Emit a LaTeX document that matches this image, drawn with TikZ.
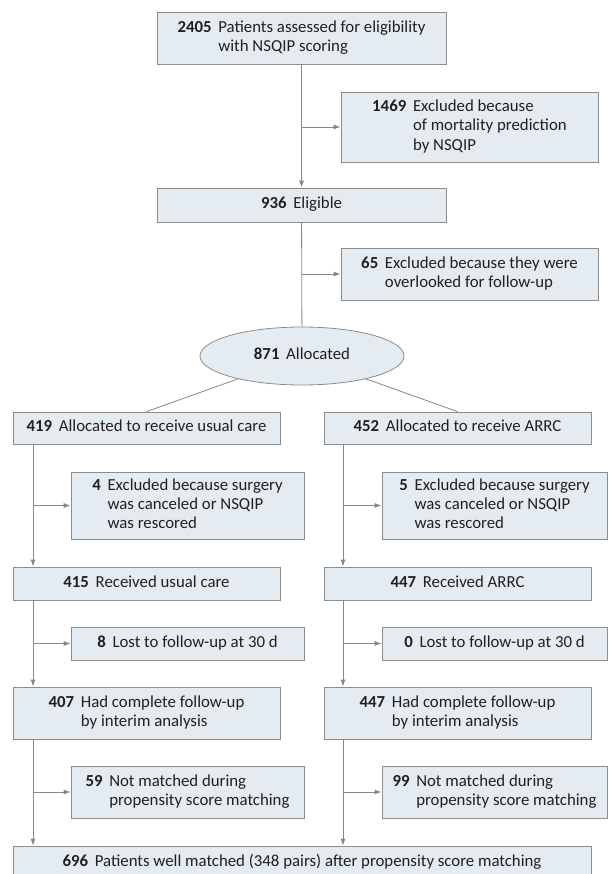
\documentclass[tikz,border=0pt]{standalone}
\usepackage{fontspec}
\setmainfont{Carlito}
\usetikzlibrary{arrows.meta,shapes.geometric}
\definecolor{boxfill}{RGB}{228,236,241}
\definecolor{boxline}{RGB}{140,140,140}
\definecolor{flowgray}{RGB}{135,135,135}
\definecolor{ink}{RGB}{35,31,32}
% bold count, then the (possibly multi-line) description
\newcommand{\flowtext}[2]{\begin{tabular}{@{}l@{\hspace{0.4em}}l@{}}\textbf{#1} & \begin{tabular}[t]{@{}l@{}}#2\end{tabular}\end{tabular}}

\begin{document}
\begin{tikzpicture}[
  x=1pt, y=-1pt,
  box/.style={draw=boxline, fill=boxfill, line width=0.8pt, text=ink,
              inner sep=0pt, align=center, font=\fontsize{16.8}{19.3}\selectfont},
  arrow/.style={-{Latex[length=7pt,width=5pt]}, draw=flowgray, line width=0.8pt},
  link/.style={draw=flowgray, line width=0.8pt}
]
  \useasboundingbox (0,0) rectangle (609,874);
  \clip (0,0) rectangle (609,874);

  % screening
  \node[box, minimum width=289, minimum height=52] (assess)   at (301.5,38)  {\flowtext{2405}{Patients assessed for eligibility\\with NSQIP scoring}};
  \node[box, minimum width=257, minimum height=70] (excl1)    at (469.5,127) {\flowtext{1469}{Excluded because\\of mortality prediction\\by NSQIP}};
  \node[box, minimum width=289, minimum height=34] (eligible) at (301.5,205) {\flowtext{936}{Eligible}};
  \node[box, minimum width=257, minimum height=52] (excl2)    at (469.5,274) {\flowtext{65}{Excluded because they were\\overlooked for follow-up}};
  \node[box, ellipse, minimum width=204, minimum height=58] (alloc) at (302,356) {\flowtext{871}{Allocated}};

  % usual care arm
  \node[box, minimum width=267, minimum height=32] (usual) at (146.5,428)   {\flowtext{419}{Allocated to receive usual care}};
  \node[box, minimum width=233, minimum height=67] (cancU) at (187.5,505.5) {\flowtext{4}{Excluded because surgery\\was canceled or NSQIP\\was rescored}};
  \node[box, minimum width=267, minimum height=33] (recvU) at (146.5,583.5) {\flowtext{415}{Received usual care}};
  \node[box, minimum width=233, minimum height=33] (lostU) at (187.5,643.5) {\flowtext{8}{Lost to follow-up at 30 d}};
  \node[box, minimum width=267, minimum height=52] (doneU) at (146.5,713)   {\flowtext{407}{Had complete follow-up\\by interim analysis}};
  \node[box, minimum width=233, minimum height=52] (unmU)  at (187.5,792)   {\flowtext{59}{Not matched during\\propensity score matching}};

  % ARRC arm
  \node[box, minimum width=267, minimum height=32] (arrc)  at (457.5,428)   {\flowtext{452}{Allocated to receive ARRC}};
  \node[box, minimum width=225, minimum height=67] (cancA) at (494.5,505.5) {\flowtext{5}{Excluded because surgery\\was canceled or NSQIP\\was rescored}};
  \node[box, minimum width=267, minimum height=33] (recvA) at (457.5,583.5) {\flowtext{447}{Received ARRC}};
  \node[box, minimum width=225, minimum height=33] (lostA) at (494.5,643.5) {\flowtext{0}{Lost to follow-up at 30 d}};
  \node[box, minimum width=267, minimum height=52] (doneA) at (457.5,713)   {\flowtext{447}{Had complete follow-up\\by interim analysis}};
  \node[box, minimum width=225, minimum height=52] (unmA)  at (494.5,792)   {\flowtext{99}{Not matched during\\propensity score matching}};

  \node[box, minimum width=578, minimum height=33] (matched) at (302,862.5) {\flowtext{696}{Patients well matched (348 pairs) after propensity score matching}};

  \coordinate (ul) at (33,0);
  \coordinate (ar) at (343,0);

  \draw[arrow] (assess) -- (eligible);
  \draw[arrow] (assess.south |- excl1) -- (excl1);
  \draw[link]  (eligible) -- (alloc);
  \draw[arrow] (eligible.south |- excl2) -- (excl2);
  \draw[link]  (alloc) -- (usual.north);
  \draw[link]  (alloc) -- (arrc.north);

  \draw[arrow] (usual.south -| ul) -- (recvU.north -| ul);
  \draw[arrow] (ul |- cancU) -- (cancU);
  \draw[arrow] (recvU.south -| ul) -- (doneU.north -| ul);
  \draw[arrow] (ul |- lostU) -- (lostU);
  \draw[arrow] (doneU.south -| ul) -- (matched.north -| ul);
  \draw[arrow] (ul |- unmU) -- (unmU);

  \draw[arrow] (arrc.south -| ar) -- (recvA.north -| ar);
  \draw[arrow] (ar |- cancA) -- (cancA);
  \draw[arrow] (recvA.south -| ar) -- (doneA.north -| ar);
  \draw[arrow] (ar |- lostA) -- (lostA);
  \draw[arrow] (doneA.south -| ar) -- (matched.north -| ar);
  \draw[arrow] (ar |- unmA) -- (unmA);
\end{tikzpicture}
\end{document}
